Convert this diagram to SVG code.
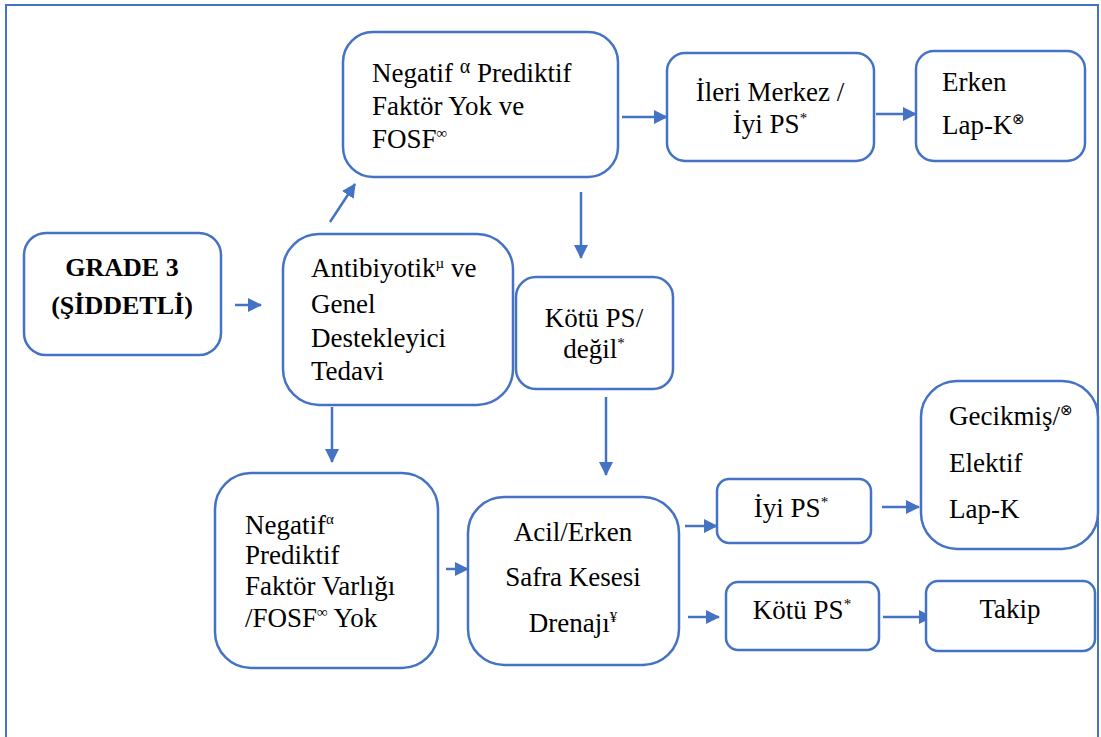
<svg xmlns="http://www.w3.org/2000/svg" width="1101" height="737" viewBox="0 0 1101 737">
<style>
.box{fill:#fff;stroke:#4472C4;stroke-width:2.5}
.t{font-family:"Liberation Serif","Times New Roman",serif;font-size:27px;fill:#000}
.b{font-weight:bold;font-size:26px}
.m{text-anchor:middle}
.sup{font-size:15px}
.c{stroke:#4472C4;stroke-width:2.5;fill:none;marker-end:url(#ah)}
</style>
<defs>
<marker id="ah" markerUnits="userSpaceOnUse" markerWidth="14" markerHeight="14" viewBox="0 0 14 14" refX="13" refY="7" orient="auto">
<path d="M0,0 L14,7 L0,14 Z" fill="#4472C4"/>
</marker>
</defs>
<rect x="0" y="0" width="1101" height="737" fill="#fff"/>
<rect x="6" y="5" width="1092" height="745" fill="none" stroke="#4472C4" stroke-width="2"/>
<g id="connectors">
<line class="c" x1="235" y1="305" x2="261" y2="305"/>
<line class="c" x1="330" y1="222" x2="355" y2="184"/>
<line class="c" x1="622" y1="117" x2="667" y2="117"/>
<line class="c" x1="876" y1="114" x2="916" y2="114"/>
<line class="c" x1="581" y1="192" x2="581" y2="258"/>
<line class="c" x1="332" y1="407" x2="332" y2="462"/>
<line class="c" x1="606" y1="397" x2="606" y2="475"/>
<line class="c" x1="446" y1="569" x2="468" y2="569"/>
<line class="c" x1="685" y1="526" x2="717" y2="526"/>
<line class="c" x1="882" y1="507" x2="919" y2="507"/>
<line class="c" x1="688" y1="617" x2="719" y2="617"/>
<line class="c" x1="883" y1="617" x2="932" y2="617"/>
</g>
<g id="grade3">
<rect class="box" x="24" y="233" width="197" height="122" rx="22"/>
<text class="t b m" x="122" y="276">GRADE 3</text>
<text class="t b m" x="122" y="314">(ŞİDDETLİ)</text>
</g>
<g id="antibiyotik">
<rect class="box" x="283" y="234" width="230" height="171" rx="36"/>
<text class="t" x="311" y="277">Antibiyotik<tspan class="sup" dy="-9">µ</tspan><tspan dy="9"> ve</tspan></text>
<text class="t" x="311" y="313">Genel</text>
<text class="t" x="311" y="347">Destekleyici</text>
<text class="t" x="311" y="380">Tedavi</text>
</g>
<g id="negatif-top">
<rect class="box" x="343" y="32" width="275" height="145" rx="30"/>
<text class="t" x="372" y="82">Negatif <tspan style="font-size:20px" dy="-9">α</tspan><tspan dy="9"> Prediktif</tspan></text>
<text class="t" x="372" y="115">Faktör Yok ve</text>
<text class="t" x="372" y="148">FOSF<tspan class="sup" dy="-10">∞</tspan></text>
</g>
<g id="ileri">
<rect class="box" x="667" y="53" width="207" height="108" rx="18"/>
<text class="t m" x="770" y="101">İleri Merkez /</text>
<text class="t m" x="770" y="133">İyi PS<tspan class="sup" dy="-10">*</tspan></text>
</g>
<g id="erken">
<rect class="box" x="916" y="51" width="169" height="110" rx="18"/>
<text class="t" x="942" y="91">Erken</text>
<text class="t" x="942" y="134">Lap-K<tspan class="sup" dy="-10">⊗</tspan></text>
</g>
<g id="kotu-degil">
<rect class="box" x="516" y="277" width="157" height="112" rx="20"/>
<text class="t m" x="594" y="327">Kötü PS/</text>
<text class="t m" x="594" y="358">değil<tspan class="sup" dy="-10">*</tspan></text>
</g>
<g id="negatif-bottom">
<rect class="box" x="215" y="473" width="223" height="195" rx="36"/>
<text class="t" x="245" y="534">Negatif<tspan class="sup" dy="-10">α</tspan></text>
<text class="t" x="245" y="564">Prediktif</text>
<text class="t" x="245" y="595">Faktör Varlığı</text>
<text class="t" x="245" y="627">/FOSF<tspan class="sup" dy="-10">∞</tspan><tspan dy="10"> Yok</tspan></text>
</g>
<g id="acil">
<rect class="box" x="468" y="497" width="211" height="168" rx="36"/>
<text class="t m" x="573" y="541">Acil/Erken</text>
<text class="t m" x="573" y="586">Safra Kesesi</text>
<text class="t m" x="573" y="632">Drenajı<tspan class="sup" dy="-10">¥</tspan></text>
</g>
<g id="iyi-ps">
<rect class="box" x="717" y="479" width="154" height="64" rx="12"/>
<text class="t m" x="791" y="517">İyi PS<tspan class="sup" dy="-10">*</tspan></text>
</g>
<g id="gecikmis">
<rect class="box" x="921" y="381" width="177" height="168" rx="36"/>
<text class="t" x="949" y="425">Gecikmiş/<tspan class="sup" dy="-10">⊗</tspan></text>
<text class="t" x="949" y="472">Elektif</text>
<text class="t" x="949" y="518">Lap-K</text>
</g>
<g id="kotu-ps">
<rect class="box" x="726" y="582" width="153" height="68" rx="12"/>
<text class="t m" x="802" y="619">Kötü PS<tspan class="sup" dy="-10">*</tspan></text>
</g>
<g id="takip">
<rect class="box" x="926" y="581" width="169" height="70" rx="12"/>
<text class="t m" x="1010" y="618">Takip</text>
</g>
</svg>
